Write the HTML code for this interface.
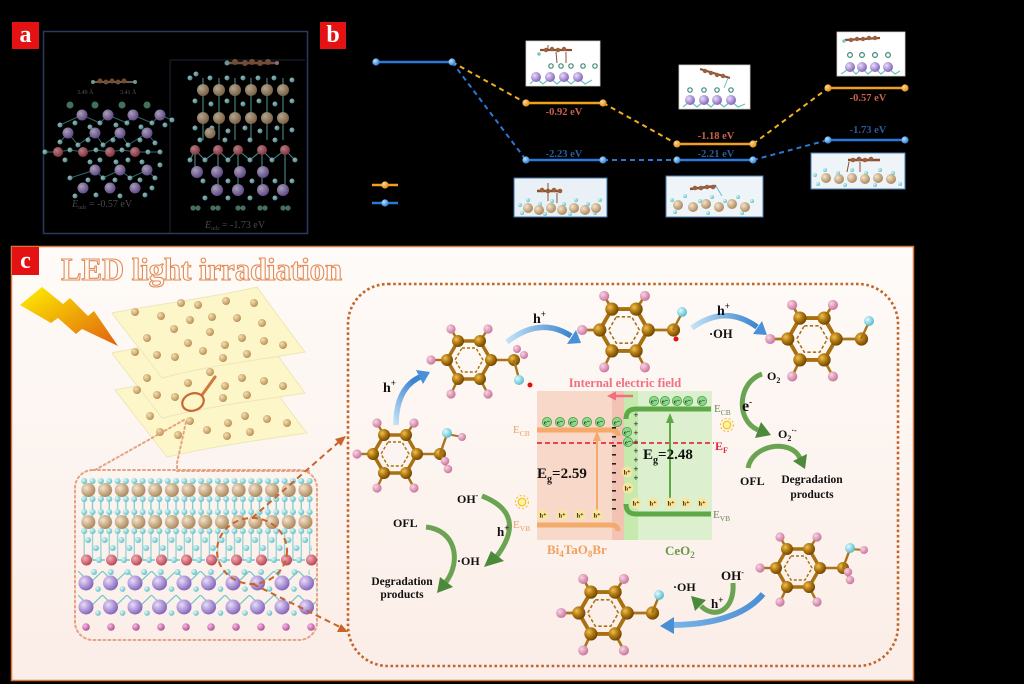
<!DOCTYPE html>
<html><head><meta charset="utf-8"><style>
html,body{margin:0;padding:0;background:#000;}
svg{display:block;}
text{font-family:"Liberation Serif",serif;}
</style></head><body>
<svg width="1024" height="684" viewBox="0 0 1024 684" xmlns="http://www.w3.org/2000/svg">
<defs>
<radialGradient id="gC" cx="35%" cy="35%" r="70%"><stop offset="0" stop-color="#f0c050"/><stop offset="0.5" stop-color="#b07810"/><stop offset="1" stop-color="#6a4200"/></radialGradient>
<radialGradient id="gH" cx="35%" cy="35%" r="70%"><stop offset="0" stop-color="#f8d4e4"/><stop offset="1" stop-color="#c87098"/></radialGradient>
<radialGradient id="gF" cx="35%" cy="35%" r="70%"><stop offset="0" stop-color="#e0fcff"/><stop offset="1" stop-color="#50b8cc"/></radialGradient>
<radialGradient id="gTan" cx="35%" cy="35%" r="70%"><stop offset="0" stop-color="#f4e4cc"/><stop offset="1" stop-color="#a88458"/></radialGradient>
<radialGradient id="gCy" cx="35%" cy="35%" r="70%"><stop offset="0" stop-color="#e0fafa"/><stop offset="1" stop-color="#58bcc4"/></radialGradient>
<radialGradient id="gRed" cx="35%" cy="35%" r="70%"><stop offset="0" stop-color="#f4b0b8"/><stop offset="1" stop-color="#b84050"/></radialGradient>
<radialGradient id="gPur" cx="35%" cy="35%" r="70%"><stop offset="0" stop-color="#e8dcfc"/><stop offset="1" stop-color="#8060b8"/></radialGradient>
<radialGradient id="gPink" cx="35%" cy="35%" r="70%"><stop offset="0" stop-color="#f4c0e8"/><stop offset="1" stop-color="#b04890"/></radialGradient>
<radialGradient id="gDot" cx="35%" cy="35%" r="70%"><stop offset="0" stop-color="#f4e0b0"/><stop offset="1" stop-color="#b88c50"/></radialGradient>
<radialGradient id="gOd" cx="35%" cy="35%" r="70%"><stop offset="0" stop-color="#ffd890"/><stop offset="1" stop-color="#e08a10"/></radialGradient>
<radialGradient id="gBd" cx="35%" cy="35%" r="70%"><stop offset="0" stop-color="#b8e0ff"/><stop offset="1" stop-color="#2a7ad0"/></radialGradient>
<linearGradient id="gBolt" x1="0" y1="0" x2="1" y2="1"><stop offset="0" stop-color="#fff000"/><stop offset="1" stop-color="#e06010"/></linearGradient>
<linearGradient id="gPanel" x1="0" y1="0" x2="0" y2="1"><stop offset="0" stop-color="#fefbf8"/><stop offset="1" stop-color="#fbede7"/></linearGradient>
<linearGradient id="gBlue" x1="0" y1="0" x2="1" y2="0"><stop offset="0" stop-color="#c4e2f6"/><stop offset="1" stop-color="#3a84d0"/></linearGradient>
<linearGradient id="gBlueR" x1="1" y1="0" x2="0" y2="0"><stop offset="0" stop-color="#4a8ed4"/><stop offset="1" stop-color="#7ab4e8"/></linearGradient>
<linearGradient id="gBlueV" x1="0" y1="1" x2="0.6" y2="0"><stop offset="0" stop-color="#c4e2f6"/><stop offset="1" stop-color="#3a84d0"/></linearGradient>

<pattern id="ptan" patternUnits="userSpaceOnUse" width="16.7" height="16"><circle cx="8.35" cy="8" r="7" fill="url(#gTan)"/></pattern>
<pattern id="pcy" patternUnits="userSpaceOnUse" width="8.35" height="8"><circle cx="4.17" cy="4" r="3" fill="url(#gCy)"/></pattern>
<pattern id="pcy2" patternUnits="userSpaceOnUse" width="16.7" height="16"><circle cx="4" cy="4" r="3" fill="url(#gCy)"/><circle cx="12" cy="12" r="3" fill="url(#gCy)"/></pattern>
<pattern id="pbond" patternUnits="userSpaceOnUse" width="8.35" height="24"><line x1="4.17" y1="0" x2="4.17" y2="24" stroke="#70c8cc" stroke-width="1.2"/></pattern>
<pattern id="pred" patternUnits="userSpaceOnUse" width="25" height="14"><line x1="6" y1="7" x2="25" y2="7" stroke="#70c8cc" stroke-width="1.5"/><circle cx="6.5" cy="7" r="5.5" fill="url(#gRed)"/><circle cx="19" cy="7" r="3" fill="url(#gCy)"/></pattern>
<pattern id="ppur" patternUnits="userSpaceOnUse" width="24.5" height="18"><circle cx="9" cy="9" r="7.5" fill="url(#gPur)"/><circle cx="21" cy="15" r="2.8" fill="url(#gCy)"/></pattern>
<pattern id="pzig" patternUnits="userSpaceOnUse" width="24.5" height="24"><polyline points="0,0 12,12 24.5,0" fill="none" stroke="#70c8cc" stroke-width="1.2"/></pattern>
<pattern id="ppink" patternUnits="userSpaceOnUse" width="25" height="10"><circle cx="6" cy="5" r="3.8" fill="url(#gPink)"/></pattern>

<g id="benz">
 <g stroke="#a87418" stroke-width="2.4">
  <line x1="-11" y1="-19" x2="-18" y2="-31"/><line x1="11" y1="-19" x2="19" y2="-31"/>
  <line x1="-22" y1="0" x2="-38" y2="0"/><line x1="-11" y1="19" x2="-18" y2="34"/>
  <line x1="11" y1="19" x2="19" y2="34"/><line x1="22" y1="0" x2="45" y2="0"/>
 </g>
 <polygon points="-11,-19 11,-19 22,0 11,19 -11,19 -22,0" fill="none" stroke="#a87010" stroke-width="3.5"/>
 <polygon points="-7,-12 7,-12 14,0 7,12 -7,12 -14,0" fill="none" stroke="#a87010" stroke-width="1.4" stroke-dasharray="3 2"/>
 <g fill="url(#gH)">
  <circle cx="-18" cy="-31" r="4.6"/><circle cx="19" cy="-31" r="4.6"/><circle cx="-38" cy="0" r="4.6"/>
  <circle cx="-18" cy="34" r="4.6"/><circle cx="19" cy="34" r="4.6"/>
 </g>
 <g fill="url(#gC)">
  <circle cx="-11" cy="-19" r="6"/><circle cx="11" cy="-19" r="6"/><circle cx="22" cy="0" r="6"/>
  <circle cx="11" cy="19" r="6"/><circle cx="-11" cy="19" r="6"/><circle cx="-22" cy="0" r="6"/>
  <circle cx="45" cy="0" r="6"/>
 </g>
</g>
</defs>

<rect width="1024" height="684" fill="#000"/>

<!-- ================= PANEL A ================= -->
<rect x="12" y="22" width="27" height="27" fill="#e41212"/>
<text x="25.5" y="42" font-size="24" font-weight="bold" fill="#fff" text-anchor="middle">a</text>
<rect x="43.5" y="31.5" width="264" height="202" fill="none" stroke="#2a3a5c" stroke-width="1.5"/>
<line x1="170" y1="60" x2="170" y2="233" stroke="#1c2638" stroke-width="1"/>
<line x1="170" y1="60" x2="305" y2="60" stroke="#1c2638" stroke-width="1"/>

<g opacity="0.72">
 <!-- left structure -->
 <line x1="93" y1="82" x2="135" y2="82" stroke="#a08070" stroke-width="2"/>
 <g fill="#a06a48"><circle cx="100" cy="81" r="2.5"/><circle cx="106" cy="82" r="2.5"/><circle cx="112" cy="81" r="2.5"/><circle cx="118" cy="82" r="2.5"/><circle cx="124" cy="81" r="2.5"/></g>
 <circle cx="93" cy="82" r="2" fill="#9ad0c8"/><circle cx="135" cy="82" r="2" fill="#9ad0c8"/>
 <text x="77" y="94" font-size="6" fill="#777">3.49 Å</text>
 <text x="120" y="94" font-size="6" fill="#777">3.41 Å</text>
 <g fill="#5e9a84"><circle cx="70" cy="105" r="3.5"/><circle cx="95" cy="105" r="3.5"/><circle cx="122" cy="105" r="3.5"/><circle cx="147" cy="105" r="3.5"/></g>
 <g stroke="#5ab0b0" stroke-width="1" opacity="0.8">
  <polyline points="60,125 82,115 100,123 108,115 127,123 133,115 152,123 160,115 172,120" fill="none"/>
  <polyline points="45,152 58,152 70,150 83,152 96,150 110,152 122,150 135,152 148,152 160,152" fill="none"/>
  <polyline points="60,142 68,133 78,145 95,133 103,145 120,133 128,145 147,133 155,143" fill="none"/>
  <polyline points="70,178 95,170 103,178 120,170 130,178 147,170 155,178" fill="none"/>
 </g>
 <g fill="url(#gCy)">
  <circle cx="60" cy="125" r="2.5"/><circle cx="75" cy="123" r="2.5"/><circle cx="90" cy="127" r="2.5"/><circle cx="100" cy="123" r="2.5"/><circle cx="116" cy="125" r="2.5"/><circle cx="127" cy="123" r="2.5"/><circle cx="141" cy="127" r="2.5"/><circle cx="152" cy="123" r="2.5"/><circle cx="165" cy="125" r="2.5"/><circle cx="172" cy="120" r="2.5"/>
  <circle cx="60" cy="142" r="2.5"/><circle cx="78" cy="145" r="2.5"/><circle cx="88" cy="140" r="2.5"/><circle cx="103" cy="145" r="2.5"/><circle cx="113" cy="140" r="2.5"/><circle cx="128" cy="145" r="2.5"/><circle cx="140" cy="140" r="2.5"/><circle cx="155" cy="143" r="2.5"/>
  <circle cx="45" cy="152" r="2.5"/><circle cx="70" cy="150" r="2.5"/><circle cx="96" cy="150" r="2.5"/><circle cx="122" cy="150" r="2.5"/><circle cx="148" cy="152" r="2.5"/><circle cx="160" cy="152" r="2.5"/>
  <circle cx="65" cy="160" r="2.5"/><circle cx="90" cy="162" r="2.5"/><circle cx="100" cy="160" r="2.5"/><circle cx="116" cy="162" r="2.5"/><circle cx="128" cy="160" r="2.5"/><circle cx="142" cy="162" r="2.5"/><circle cx="160" cy="165" r="2.5"/>
  <circle cx="70" cy="178" r="2.5"/><circle cx="88" cy="180" r="2.5"/><circle cx="103" cy="178" r="2.5"/><circle cx="115" cy="180" r="2.5"/><circle cx="130" cy="178" r="2.5"/><circle cx="140" cy="180" r="2.5"/><circle cx="155" cy="178" r="2.5"/>
  <circle cx="75" cy="196" r="2.5"/><circle cx="96" cy="195" r="2.5"/><circle cx="120" cy="196" r="2.5"/><circle cx="145" cy="195" r="2.5"/><circle cx="152" cy="188" r="2.5"/>
 </g>
 <g fill="url(#gPur)">
  <circle cx="82" cy="115" r="5.5"/><circle cx="108" cy="115" r="5.5"/><circle cx="133" cy="115" r="5.5"/><circle cx="160" cy="115" r="5.5"/>
  <circle cx="68" cy="133" r="5.5"/><circle cx="95" cy="133" r="5.5"/><circle cx="120" cy="133" r="5.5"/><circle cx="147" cy="133" r="5.5"/>
  <circle cx="95" cy="170" r="5.5"/><circle cx="120" cy="170" r="5.5"/><circle cx="147" cy="170" r="5.5"/>
  <circle cx="83" cy="188" r="5.5"/><circle cx="110" cy="188" r="5.5"/><circle cx="135" cy="188" r="5.5"/>
 </g>
 <g fill="url(#gRed)"><circle cx="58" cy="152" r="5"/><circle cx="83" cy="152" r="5"/><circle cx="110" cy="152" r="5"/><circle cx="135" cy="152" r="5"/></g>

 <!-- right structure -->
 <line x1="227" y1="63" x2="277" y2="63" stroke="#a07060" stroke-width="2.5"/>
 <g fill="#a06a48"><circle cx="235" cy="62" r="3"/><circle cx="245" cy="63" r="3"/><circle cx="252" cy="62" r="3"/><circle cx="260" cy="63" r="3"/><circle cx="268" cy="62" r="3"/></g>
 <circle cx="227" cy="63" r="2.5" fill="#9ad0c8"/><circle cx="277" cy="63" r="2" fill="#d090a8"/>
 <g stroke="#5ab0b0" stroke-width="1.2">
  <line x1="203" y1="78" x2="203" y2="140"/><line x1="219" y1="78" x2="219" y2="140"/><line x1="235" y1="78" x2="235" y2="140"/><line x1="251" y1="78" x2="251" y2="140"/><line x1="267" y1="78" x2="267" y2="140"/><line x1="283" y1="78" x2="283" y2="140"/>
  <line x1="195" y1="150" x2="195" y2="172"/><line x1="218" y1="150" x2="218" y2="190"/><line x1="238" y1="150" x2="238" y2="190"/><line x1="262" y1="150" x2="262" y2="190"/><line x1="285" y1="150" x2="285" y2="190"/>
  <polyline points="190,160 195,150 205,160 218,150 228,160 238,150 250,160 262,150 272,160 285,150 295,160" fill="none"/>
 </g>
 <g fill="url(#gCy)">
  <circle cx="190" cy="78" r="2.5"/><circle cx="196" cy="74" r="2.5"/><circle cx="210" cy="78" r="2.5"/><circle cx="227" cy="78" r="2.5"/><circle cx="243" cy="78" r="2.5"/><circle cx="258" cy="78" r="2.5"/><circle cx="274" cy="78" r="2.5"/><circle cx="292" cy="80" r="2.5"/>
  <circle cx="195" cy="101" r="2.5"/><circle cx="211" cy="104" r="2.5"/><circle cx="227" cy="101" r="2.5"/><circle cx="243" cy="104" r="2.5"/><circle cx="259" cy="101" r="2.5"/><circle cx="275" cy="104" r="2.5"/><circle cx="292" cy="101" r="2.5"/>
  <circle cx="195" cy="128" r="2.5"/><circle cx="212" cy="128" r="2.5"/><circle cx="228" cy="131" r="2.5"/><circle cx="245" cy="128" r="2.5"/><circle cx="260" cy="131" r="2.5"/><circle cx="277" cy="128" r="2.5"/><circle cx="292" cy="130" r="2.5"/>
  <circle cx="200" cy="140" r="2.5"/><circle cx="225" cy="140" r="2.5"/><circle cx="250" cy="140" r="2.5"/><circle cx="275" cy="140" r="2.5"/>
  <circle cx="190" cy="160" r="2.5"/><circle cx="205" cy="160" r="2.5"/><circle cx="228" cy="160" r="2.5"/><circle cx="250" cy="160" r="2.5"/><circle cx="272" cy="160" r="2.5"/><circle cx="295" cy="160" r="2.5"/>
  <circle cx="203" cy="181" r="2.5"/><circle cx="228" cy="181" r="2.5"/><circle cx="252" cy="181" r="2.5"/><circle cx="275" cy="181" r="2.5"/><circle cx="292" cy="181" r="2.5"/>
  <circle cx="205" cy="198" r="2.5"/><circle cx="228" cy="198" r="2.5"/><circle cx="250" cy="198" r="2.5"/><circle cx="275" cy="198" r="2.5"/>
 </g>
 <g fill="url(#gTan)">
  <circle cx="203" cy="90" r="6"/><circle cx="219" cy="90" r="6"/><circle cx="235" cy="90" r="6"/><circle cx="251" cy="90" r="6"/><circle cx="267" cy="90" r="6"/><circle cx="283" cy="90" r="6"/>
  <circle cx="203" cy="118" r="6"/><circle cx="219" cy="118" r="6"/><circle cx="235" cy="118" r="6"/><circle cx="251" cy="118" r="6"/><circle cx="267" cy="118" r="6"/><circle cx="283" cy="118" r="6"/>
  <circle cx="210" cy="133" r="5.5"/>
 </g>
 <g fill="url(#gRed)"><circle cx="195" cy="150" r="5"/><circle cx="218" cy="150" r="5"/><circle cx="238" cy="150" r="5"/><circle cx="262" cy="150" r="5"/><circle cx="285" cy="150" r="5"/></g>
 <g fill="url(#gPur)">
  <circle cx="197" cy="172" r="6"/><circle cx="217" cy="172" r="6"/><circle cx="240" cy="172" r="6"/><circle cx="263" cy="172" r="6"/>
  <circle cx="217" cy="190" r="6"/><circle cx="238" cy="190" r="6"/><circle cx="263" cy="190" r="6"/><circle cx="283" cy="190" r="6"/>
 </g>
 <g fill="#5e9a84">
  <circle cx="193" cy="208" r="2.6"/><circle cx="198" cy="208" r="2.6"/><circle cx="213" cy="208" r="2.6"/><circle cx="218" cy="208" r="2.6"/><circle cx="238" cy="208" r="2.6"/><circle cx="243" cy="208" r="2.6"/><circle cx="260" cy="208" r="2.6"/><circle cx="265" cy="208" r="2.6"/><circle cx="283" cy="208" r="2.6"/><circle cx="288" cy="208" r="2.6"/>
 </g>
</g>
<text x="72" y="207" font-size="10" fill="#4a4a4a" font-style="italic">E<tspan dy="2" font-size="6">ads</tspan><tspan dy="-2" font-style="normal"> = -0.57 eV</tspan></text>
<text x="205" y="228" font-size="10" fill="#4a4a4a" font-style="italic">E<tspan dy="2" font-size="6">ads</tspan><tspan dy="-2" font-style="normal"> = -1.73 eV</tspan></text>

<!-- ================= PANEL B ================= -->
<rect x="320" y="22" width="26" height="27" fill="#e41212"/>
<text x="333" y="42" font-size="24" font-weight="bold" fill="#fff" text-anchor="middle">b</text>

<rect x="526" y="41" width="74" height="45" fill="#fff" stroke="#d8d0c8" stroke-width="0.8"/>
<g>
 <line x1="540" y1="50" x2="572" y2="50" stroke="#8a5030" stroke-width="2.2"/>
 <g fill="#9a6040"><circle cx="546" cy="50" r="2.2"/><circle cx="552" cy="49" r="2.2"/><circle cx="558" cy="50" r="2.2"/><circle cx="564" cy="49" r="2.2"/></g>
 <line x1="548" y1="45" x2="548" y2="50" stroke="#8a5030"/><line x1="556" y1="52" x2="557" y2="63" stroke="#8a5030"/><line x1="566" y1="52" x2="566" y2="63" stroke="#8a5030"/>
 <circle cx="539" cy="54" r="1.8" fill="#7ac8c0"/>
 <g fill="none" stroke="#3e8a78" stroke-width="1.2"><circle cx="551" cy="66" r="2.2"/><circle cx="561" cy="66" r="2.2"/><circle cx="571" cy="66" r="2.2"/><circle cx="583" cy="66" r="2.2"/><circle cx="595" cy="66" r="2.2"/></g>
 <polyline points="530,84 536,78 543,84 550,78 557,84 564,78 571,84 578,78 585,84 592,80" fill="none" stroke="#6ac0c0" stroke-width="1.2"/>
 <g fill="url(#gPur)"><circle cx="536" cy="77" r="5"/><circle cx="550" cy="77" r="5"/><circle cx="564" cy="77" r="5"/><circle cx="578" cy="77" r="5"/></g>
</g>
<rect x="679" y="65" width="71" height="44" fill="#fff" stroke="#d8d0c8" stroke-width="0.8"/>
<g>
 <line x1="700" y1="69" x2="730" y2="78" stroke="#8a5030" stroke-width="2.2"/>
 <g fill="#9a6040"><circle cx="705" cy="71" r="2.2"/><circle cx="711" cy="73" r="2.2"/><circle cx="717" cy="75" r="2.2"/><circle cx="723" cy="76" r="2.2"/></g>
 <line x1="728" y1="78" x2="724" y2="88" stroke="#6ac0c0"/>
 <g fill="none" stroke="#3e8a78" stroke-width="1.2"><circle cx="690" cy="90" r="2.2"/><circle cx="704" cy="90" r="2.2"/><circle cx="717" cy="90" r="2.2"/><circle cx="731" cy="90" r="2.2"/></g>
 <polyline points="683,107 690,101 697,107 704,101 711,107 717,101 724,107 731,101 738,107 745,104" fill="none" stroke="#6ac0c0" stroke-width="1.2"/>
 <g fill="url(#gPur)"><circle cx="690" cy="100" r="5"/><circle cx="704" cy="100" r="5"/><circle cx="717" cy="100" r="5"/><circle cx="731" cy="100" r="5"/></g>
</g>
<rect x="837" y="32" width="68" height="44" fill="#fff" stroke="#d8d0c8" stroke-width="0.8"/>
<g>
 <line x1="845" y1="40" x2="880" y2="38" stroke="#8a5030" stroke-width="2.2"/>
 <g fill="#9a6040"><circle cx="851" cy="40" r="2.2"/><circle cx="857" cy="39" r="2.2"/><circle cx="863" cy="39" r="2.2"/><circle cx="869" cy="38" r="2.2"/><circle cx="875" cy="38" r="2.2"/></g>
 <circle cx="844" cy="41" r="1.8" fill="#7ac8c0"/>
 <g fill="none" stroke="#3e8a78" stroke-width="1.2"><circle cx="850" cy="55" r="2.4"/><circle cx="862" cy="55" r="2.4"/><circle cx="875" cy="55" r="2.4"/><circle cx="888" cy="55" r="2.4"/></g>
 <polyline points="841,74 850,68 856,74 862,68 868,74 875,68 881,74 888,68 895,74 900,71" fill="none" stroke="#6ac0c0" stroke-width="1.2"/>
 <g fill="url(#gPur)"><circle cx="850" cy="67" r="5"/><circle cx="862" cy="67" r="5"/><circle cx="875" cy="67" r="5"/><circle cx="888" cy="67" r="5"/></g>
</g>
<rect x="514" y="178" width="93" height="39" fill="#eaf1f6" stroke="#3b72aa" stroke-width="1"/>
<g>
 <line x1="537" y1="191" x2="562" y2="191" stroke="#8a5030" stroke-width="2.4"/>
 <g fill="#9a6040"><circle cx="542" cy="190" r="2.3"/><circle cx="548" cy="191" r="2.3"/><circle cx="554" cy="190" r="2.3"/><circle cx="560" cy="191" r="2.3"/></g>
 <line x1="548" y1="183" x2="548" y2="201" stroke="#8a5030"/><line x1="557" y1="193" x2="557" y2="203" stroke="#8a5030"/>
 <g fill="url(#gCy)"><circle cx="520" cy="205" r="2"/><circle cx="528" cy="200" r="2"/><circle cx="540" cy="204" r="2"/><circle cx="552" cy="201" r="2"/><circle cx="564" cy="204" r="2"/><circle cx="576" cy="200" r="2"/><circle cx="588" cy="204" r="2"/><circle cx="600" cy="200" r="2"/><circle cx="522" cy="213" r="2"/><circle cx="545" cy="214" r="2"/><circle cx="570" cy="214" r="2"/><circle cx="595" cy="213" r="2"/></g>
 <g fill="url(#gTan)"><circle cx="528" cy="208" r="5"/><circle cx="539" cy="210" r="5"/><circle cx="551" cy="208" r="5"/><circle cx="562" cy="210" r="5"/><circle cx="574" cy="208" r="5"/><circle cx="585" cy="210" r="5"/><circle cx="596" cy="208" r="5"/></g>
</g>
<rect x="666" y="176" width="97" height="41" fill="#eef4f8" stroke="#4a80b2" stroke-width="1"/>
<g>
 <line x1="690" y1="189" x2="716" y2="186" stroke="#8a5030" stroke-width="2.4"/>
 <g fill="#9a6040"><circle cx="695" cy="188" r="2.3"/><circle cx="701" cy="188" r="2.3"/><circle cx="707" cy="187" r="2.3"/><circle cx="713" cy="187" r="2.3"/></g>
 <line x1="716" y1="186" x2="722" y2="196" stroke="#6ac0c0"/>
 <g fill="url(#gCy)"><circle cx="672" cy="200" r="2"/><circle cx="685" cy="196" r="2"/><circle cx="700" cy="201" r="2"/><circle cx="712" cy="197" r="2"/><circle cx="725" cy="201" r="2"/><circle cx="738" cy="197" r="2"/><circle cx="752" cy="201" r="2"/><circle cx="675" cy="212" r="2"/><circle cx="708" cy="213" r="2"/><circle cx="742" cy="213" r="2"/></g>
 <g fill="url(#gTan)"><circle cx="678" cy="205" r="5"/><circle cx="693" cy="207" r="5"/><circle cx="706" cy="204" r="5"/><circle cx="719" cy="207" r="5"/><circle cx="732" cy="204" r="5"/><circle cx="745" cy="207" r="5"/></g>
</g>
<rect x="811" y="153" width="94" height="36" fill="#eef4f8" stroke="#4a80b2" stroke-width="1"/>
<g>
 <line x1="848" y1="160" x2="880" y2="160" stroke="#8a5030" stroke-width="2.4"/>
 <g fill="#9a6040"><circle cx="853" cy="160" r="2.3"/><circle cx="859" cy="159" r="2.3"/><circle cx="865" cy="160" r="2.3"/><circle cx="871" cy="159" r="2.3"/></g>
 <line x1="860" y1="162" x2="860" y2="172" stroke="#8a5030"/><line x1="849" y1="162" x2="847" y2="172" stroke="#8a5030"/>
 <g fill="url(#gCy)"><circle cx="815" cy="175" r="2"/><circle cx="825" cy="170" r="2"/><circle cx="838" cy="173" r="2"/><circle cx="852" cy="170" r="2"/><circle cx="866" cy="173" r="2"/><circle cx="880" cy="170" r="2"/><circle cx="893" cy="173" r="2"/><circle cx="818" cy="184" r="2"/><circle cx="845" cy="185" r="2"/><circle cx="875" cy="185" r="2"/><circle cx="900" cy="184" r="2"/></g>
 <g fill="url(#gTan)"><circle cx="826" cy="178" r="5"/><circle cx="839" cy="179" r="5"/><circle cx="852" cy="178" r="5"/><circle cx="865" cy="179" r="5"/><circle cx="878" cy="178" r="5"/><circle cx="891" cy="179" r="5"/></g>
</g>

<g stroke-width="2" stroke-dasharray="5 4" fill="none">
 <line x1="452" y1="62" x2="526" y2="103" stroke="#f0b020"/>
 <line x1="603" y1="103" x2="677" y2="144" stroke="#f0b020"/>
 <line x1="753" y1="144" x2="828" y2="88" stroke="#f0b020"/>
 <line x1="452" y1="62" x2="526" y2="160" stroke="#2a78d8"/>
 <line x1="603" y1="160" x2="677" y2="160" stroke="#2a78d8"/>
 <line x1="753" y1="160" x2="828" y2="140" stroke="#2a78d8"/>
</g>
<g stroke-width="2.4">
 <line x1="376" y1="62" x2="452" y2="62" stroke="#2a78d8"/>
 <line x1="526" y1="103" x2="603" y2="103" stroke="#f0a020"/>
 <line x1="526" y1="160" x2="603" y2="160" stroke="#2a78d8"/>
 <line x1="677" y1="144" x2="753" y2="144" stroke="#f0a020"/>
 <line x1="677" y1="160" x2="753" y2="160" stroke="#2a78d8"/>
 <line x1="828" y1="88" x2="905" y2="88" stroke="#f0a020"/>
 <line x1="828" y1="140" x2="905" y2="140" stroke="#2a78d8"/>
 <line x1="372" y1="185" x2="398" y2="185" stroke="#f0a020"/>
 <line x1="372" y1="203" x2="398" y2="203" stroke="#2a78d8"/>
</g>
<g fill="url(#gBd)">
 <circle cx="376" cy="62" r="3.6"/><circle cx="452" cy="62" r="3.6"/><circle cx="526" cy="160" r="3.6"/><circle cx="603" cy="160" r="3.6"/>
 <circle cx="677" cy="160" r="3.6"/><circle cx="753" cy="160" r="3.6"/><circle cx="828" cy="140" r="3.6"/><circle cx="905" cy="140" r="3.6"/><circle cx="385" cy="203" r="3.6"/>
</g>
<g fill="url(#gOd)">
 <circle cx="526" cy="103" r="3.6"/><circle cx="603" cy="103" r="3.6"/><circle cx="677" cy="144" r="3.6"/><circle cx="753" cy="144" r="3.6"/>
 <circle cx="828" cy="88" r="3.6"/><circle cx="905" cy="88" r="3.6"/><circle cx="385" cy="185" r="3.6"/>
</g>
<g font-size="10.5" font-weight="bold" text-anchor="middle">
 <text x="564" y="115" fill="#c8624a">-0.92 eV</text>
 <text x="564" y="157" fill="#2a5c9c">-2.23 eV</text>
 <text x="716" y="139" fill="#c8624a">-1.18 eV</text>
 <text x="716" y="157" fill="#2a5c9c">-2.21 eV</text>
 <text x="868" y="101" fill="#c8624a">-0.57 eV</text>
 <text x="868" y="133" fill="#2a5c9c">-1.73 eV</text>
</g>

<!-- ================= PANEL C ================= -->
<rect x="11.5" y="246.5" width="902" height="434" fill="url(#gPanel)" stroke="#d8783c" stroke-width="1.5"/>
<rect x="12" y="247" width="27" height="28" fill="#e41212"/>
<text x="25.5" y="268" font-size="24" font-weight="bold" fill="#fff" text-anchor="middle">c</text>
<text x="61" y="280" font-size="32" font-weight="bold" fill="#fffaf4" stroke="#e08a58" stroke-width="1.1" textLength="281" lengthAdjust="spacingAndGlyphs">LED light irradiation</text>

<polygon points="20,305 42,287 63,304 70,298 88,316 94,311 118,346 82,329 76,334 58,318 51,323" fill="url(#gBolt)"/>

<path d="M115,390 C150,383 200,376 259,368 C275,390 290,412 307,433 C260,440 215,446 167,457 C150,435 132,412 115,390 Z" fill="#fcf6c8" stroke="#eee6b8" stroke-width="1"/>
<path d="M112,353 C150,345 200,339 257,327 C273,349 289,371 305,393 C260,400 210,406 162,418 C146,396 128,375 112,353 Z" fill="#fcf6c8" stroke="#eee6b8" stroke-width="1"/>
<path d="M112,313 C150,305 200,300 257,287 C273,309 289,331 305,352 C260,360 210,365 162,378 C146,356 128,335 112,313 Z" fill="#fcf6c8" stroke="#eee6b8" stroke-width="1"/>
<g fill="url(#gDot)">
 <circle cx="137" cy="390" r="4"/><circle cx="150" cy="416" r="4"/><circle cx="160" cy="432" r="4"/><circle cx="178" cy="435" r="4"/><circle cx="190" cy="421" r="4"/><circle cx="207" cy="430" r="4"/><circle cx="228" cy="423" r="4"/><circle cx="227" cy="436" r="4"/><circle cx="245" cy="416" r="4"/><circle cx="250" cy="432" r="4"/><circle cx="267" cy="419" r="4"/><circle cx="287" cy="423" r="4"/>
 <circle cx="135" cy="352" r="4"/><circle cx="147" cy="378" r="4"/><circle cx="188" cy="383" r="4"/><circle cx="210" cy="372" r="4"/><circle cx="225" cy="386" r="4"/><circle cx="242" cy="378" r="4"/><circle cx="264" cy="381" r="4"/><circle cx="283" cy="386" r="4"/><circle cx="157" cy="395" r="4"/><circle cx="175" cy="397" r="4"/><circle cx="223" cy="398" r="4"/><circle cx="247" cy="395" r="4"/>
 <circle cx="135" cy="312" r="4"/><circle cx="181" cy="303" r="4"/><circle cx="198" cy="305" r="4"/><circle cx="226" cy="301" r="4"/><circle cx="254" cy="303" r="4"/><circle cx="161" cy="316" r="4"/><circle cx="190" cy="320" r="4"/><circle cx="212" cy="317" r="4"/><circle cx="237" cy="318" r="4"/><circle cx="262" cy="323" r="4"/><circle cx="174" cy="329" r="4"/><circle cx="210" cy="332" r="4"/><circle cx="147" cy="338" r="4"/><circle cx="188" cy="343" r="4"/><circle cx="225" cy="345" r="4"/><circle cx="242" cy="338" r="4"/><circle cx="264" cy="341" r="4"/><circle cx="283" cy="345" r="4"/><circle cx="157" cy="355" r="4"/><circle cx="175" cy="357" r="4"/><circle cx="203" cy="351" r="4"/><circle cx="223" cy="358" r="4"/><circle cx="247" cy="354" r="4"/>
</g>
<line x1="202" y1="395" x2="215" y2="377" stroke="#d07a40" stroke-width="3" stroke-linecap="round"/>
<ellipse cx="193" cy="402" rx="11" ry="8.5" transform="rotate(-20 193 402)" fill="none" stroke="#c86a30" stroke-width="2.2"/>

<g fill="none" stroke="#e4a484" stroke-width="2" stroke-dasharray="2 3" stroke-linecap="round">
 <polyline points="186,422 177,463 177,471 310,471"/>
 <polyline points="184,420 95,470"/>
 <rect x="75" y="470" width="242" height="170" rx="18"/>
</g>

<g>
 <g transform="translate(80,499)"><rect width="234" height="23" fill="url(#pbond)"/></g>
 <g transform="translate(80,531)"><rect width="234" height="29" fill="url(#pbond)" opacity="0.8"/></g>
 <g transform="translate(78,571)"><rect width="238" height="48" fill="url(#pzig)"/></g>
 <g transform="translate(80,477)"><rect width="234" height="8" fill="url(#pcy)"/></g>
 <g transform="translate(80,482)"><rect width="234" height="16" fill="url(#ptan)"/></g>
 <g transform="translate(80,495)"><rect width="234" height="8" fill="url(#pcy)"/></g>
 <g transform="translate(80,508)"><rect width="234" height="8" fill="url(#pcy)"/></g>
 <g transform="translate(80,514)"><rect width="234" height="16" fill="url(#ptan)"/></g>
 <g transform="translate(80,527)"><rect width="234" height="8" fill="url(#pcy)"/></g>
 <g transform="translate(84,536)"><rect width="228" height="16" fill="url(#pcy2)"/></g>
 <g transform="translate(80,553)"><rect width="238" height="14" fill="url(#pred)"/></g>
 <g transform="translate(90,568)"><rect width="220" height="8" fill="url(#pcy2)"/></g>
 <g transform="translate(77,574)"><rect width="240" height="18" fill="url(#ppur)"/></g>
 <g transform="translate(77,598)"><rect width="240" height="18" fill="url(#ppur)"/></g>
 <g transform="translate(80,622)"><rect width="238" height="10" fill="url(#ppink)"/></g>
</g>
<g fill="none" stroke="#c8642a" stroke-width="2" stroke-dasharray="6 4">
 <ellipse cx="252" cy="551" rx="35" ry="33"/>
 <line x1="252" y1="518" x2="340" y2="441"/>
 <line x1="253" y1="584" x2="342" y2="628"/>
</g>
<polygon points="346,436 335,439 341,446" fill="#c8642a"/>
<polygon points="348,632 337,632 341,624" fill="#c8642a"/>

<rect x="348" y="284" width="550" height="382" rx="40" fill="none" stroke="#c4642a" stroke-width="2.6" stroke-dasharray="2.6 2.6"/>

<!-- band diagram -->
<rect x="537" y="391" width="76" height="149" fill="#f8d8c8"/>
<rect x="612" y="391" width="12" height="149" fill="#f2c2b2"/>
<rect x="624" y="391" width="88" height="149" fill="#dcefcf"/>
<rect x="624" y="391" width="14" height="149" fill="#c6eaae"/>
<text x="625" y="387" font-size="12.5" font-weight="bold" fill="#f07080" text-anchor="middle">Internal electric field</text>
<line x1="633" y1="396" x2="614" y2="396" stroke="#f07080" stroke-width="2.4"/>
<polygon points="607,396 616,391.5 616,400.5" fill="#f07080"/>
<line x1="537" y1="443" x2="714" y2="443" stroke="#e03040" stroke-width="1.8" stroke-dasharray="5 3"/>
<g fill="none" stroke-width="5">
 <path d="M537,430 H611 Q618,430 618,436" stroke="#f4aa6a"/>
 <path d="M537,525 H611 Q618,525 618,531" stroke="#f4aa6a"/>
 <path d="M626,419 Q626,409 636,409 H711" stroke="#5ea846"/>
 <path d="M626,504 Q626,514 636,514 H711" stroke="#5ea846"/>
</g>
<line x1="597" y1="512" x2="597" y2="440" stroke="#f4aa6a" stroke-width="2"/>
<polygon points="597,431 593,441 601,441" fill="#f4aa6a"/>
<line x1="670" y1="502" x2="670" y2="422" stroke="#5ea846" stroke-width="2"/>
<polygon points="670,413 666,423 674,423" fill="#5ea846"/>
<g fill="#222">
 <rect x="612" y="427" width="4" height="1.6"/><rect x="612" y="436" width="4" height="1.6"/><rect x="612" y="445" width="4" height="1.6"/><rect x="612" y="454" width="4" height="1.6"/><rect x="612" y="463" width="4" height="1.6"/><rect x="612" y="472" width="4" height="1.6"/><rect x="612" y="481" width="4" height="1.6"/><rect x="612" y="490" width="4" height="1.6"/><rect x="612" y="499" width="4" height="1.6"/><rect x="612" y="508" width="4" height="1.6"/>
</g>
<g font-size="9" font-weight="bold" fill="#222" text-anchor="middle">
 <text x="636" y="418">+</text><text x="636" y="427">+</text><text x="636" y="436">+</text><text x="636" y="445">+</text><text x="636" y="454">+</text><text x="636" y="463">+</text><text x="636" y="472">+</text><text x="636" y="481">+</text>
</g>
<g fill="#8ed88c" stroke="#4a9a44" stroke-width="0.8">
 <circle cx="547" cy="422" r="4.6"/><circle cx="560" cy="422" r="4.6"/><circle cx="573" cy="422" r="4.6"/><circle cx="587" cy="422" r="4.6"/><circle cx="600" cy="422" r="4.6"/><circle cx="617" cy="422" r="4.6"/>
 <circle cx="627" cy="432" r="4.6"/><circle cx="628" cy="442" r="4.6"/>
 <circle cx="654" cy="401" r="4.6"/><circle cx="665" cy="401" r="4.6"/><circle cx="677" cy="401" r="4.6"/><circle cx="688" cy="401" r="4.6"/><circle cx="702" cy="401" r="4.6"/>
</g>
<g font-size="6.5" font-weight="bold" fill="#1a3a1a" text-anchor="middle">
 <text x="547" y="424.5">e⁻</text><text x="560" y="424.5">e⁻</text><text x="573" y="424.5">e⁻</text><text x="587" y="424.5">e⁻</text><text x="600" y="424.5">e⁻</text><text x="617" y="424.5">e⁻</text>
 <text x="627" y="434.5">e⁻</text><text x="628" y="444.5">e⁻</text>
 <text x="654" y="403.5">e⁻</text><text x="665" y="403.5">e⁻</text><text x="677" y="403.5">e⁻</text><text x="688" y="403.5">e⁻</text><text x="702" y="403.5">e⁻</text>
</g>
<g fill="#f8e6a0">
 <circle cx="543" cy="515" r="5.4"/><circle cx="562" cy="515" r="5.4"/><circle cx="580" cy="515" r="5.4"/><circle cx="597" cy="515" r="5.4"/>
 <circle cx="636" cy="503" r="5.4"/><circle cx="653" cy="503" r="5.4"/><circle cx="671" cy="503" r="5.4"/><circle cx="686" cy="503" r="5.4"/><circle cx="702" cy="503" r="5.4"/>
 <circle cx="627" cy="472" r="5.4"/><circle cx="628" cy="488" r="5.4"/>
</g>
<g font-size="6.5" font-weight="bold" fill="#3a2a00" text-anchor="middle">
 <text x="543" y="517.5">h⁺</text><text x="562" y="517.5">h⁺</text><text x="580" y="517.5">h⁺</text><text x="597" y="517.5">h⁺</text>
 <text x="636" y="505.5">h⁺</text><text x="653" y="505.5">h⁺</text><text x="671" y="505.5">h⁺</text><text x="686" y="505.5">h⁺</text><text x="702" y="505.5">h⁺</text>
 <text x="627" y="474.5">h⁺</text><text x="628" y="490.5">h⁺</text>
</g>
<text x="513" y="433" font-size="11" fill="#f0a060">E<tspan dy="3" font-size="7.5">CB</tspan></text>
<text x="513" y="528" font-size="11" fill="#f0a060">E<tspan dy="3" font-size="7.5">VB</tspan></text>
<text x="714" y="412" font-size="11" fill="#6a8a5a">E<tspan dy="3" font-size="7.5">CB</tspan></text>
<text x="713" y="518" font-size="11" fill="#6a8a5a">E<tspan dy="3" font-size="7.5">VB</tspan></text>
<text x="715" y="450" font-size="12" font-weight="bold" fill="#e02838">E<tspan dy="3" font-size="8">F</tspan></text>
<text x="537" y="478" font-size="15" font-weight="bold" fill="#111">E<tspan dy="4" font-size="10">g</tspan><tspan dy="-4">=2.59</tspan></text>
<text x="643" y="459" font-size="15" font-weight="bold" fill="#111">E<tspan dy="4" font-size="10">g</tspan><tspan dy="-4">=2.48</tspan></text>
<text x="547" y="554" font-size="13" font-weight="bold" fill="#f0a060">Bi<tspan dy="3" font-size="9">4</tspan><tspan dy="-3">TaO</tspan><tspan dy="3" font-size="9">8</tspan><tspan dy="-3">Br</tspan></text>
<text x="665" y="555" font-size="13" font-weight="bold" fill="#6a9a4a">CeO<tspan dy="3" font-size="9">2</tspan></text>
<g stroke="#f2c020" fill="none" stroke-width="1.1">
 <circle cx="522" cy="502" r="3.8" fill="#fff2a0"/><circle cx="522" cy="502" r="6.5" stroke-dasharray="2 2"/>
 <circle cx="727" cy="425" r="3.8" fill="#fff2a0"/><circle cx="727" cy="425" r="6.5" stroke-dasharray="2 2"/>
</g>

<!-- molecules -->
<use href="#benz" transform="translate(395,454)"/>
<g>
 <line x1="440" y1="454" x2="447" y2="434" stroke="#a87418" stroke-width="2.4"/>
 <line x1="447" y1="434" x2="462" y2="437" stroke="#a87418" stroke-width="2"/>
 <line x1="440" y1="454" x2="446" y2="466" stroke="#a87418" stroke-width="2"/>
 <circle cx="462" cy="437" r="4" fill="url(#gH)"/><circle cx="445" cy="461" r="4.3" fill="url(#gH)"/><circle cx="448" cy="469" r="4.3" fill="url(#gH)"/>
 <circle cx="447" cy="433" r="5" fill="url(#gF)"/>
</g>
<use href="#benz" transform="translate(469,360)"/>
<g>
 <line x1="514" y1="360" x2="519" y2="379" stroke="#a87418" stroke-width="2.4"/>
 <circle cx="517" cy="349" r="4" fill="url(#gH)"/><circle cx="524" cy="355" r="4" fill="url(#gH)"/>
 <circle cx="519" cy="380" r="5" fill="url(#gF)"/><circle cx="530" cy="385" r="2.5" fill="#e01010"/>
</g>
<use href="#benz" transform="translate(624,330) scale(1.1)"/>
<g><line x1="673" y1="330" x2="682" y2="313" stroke="#a87418" stroke-width="2.4"/><circle cx="682" cy="312" r="5" fill="url(#gF)"/><circle cx="676" cy="339" r="2.5" fill="#e01010"/></g>
<use href="#benz" transform="translate(812,339) scale(1.1)"/>
<g><line x1="861" y1="339" x2="869" y2="322" stroke="#a87418" stroke-width="2.4"/><circle cx="869" cy="321" r="5" fill="url(#gF)"/></g>
<use href="#benz" transform="translate(603,613) scale(1.1)"/>
<g><line x1="652" y1="613" x2="659" y2="596" stroke="#a87418" stroke-width="2.4"/><circle cx="659" cy="595" r="5" fill="url(#gF)"/></g>
<use href="#benz" transform="translate(798,568)"/>
<g>
 <line x1="843" y1="568" x2="850" y2="549" stroke="#a87418" stroke-width="2.4"/>
 <line x1="850" y1="549" x2="864" y2="550" stroke="#a87418" stroke-width="2"/>
 <line x1="843" y1="568" x2="849" y2="578" stroke="#a87418" stroke-width="2"/>
 <circle cx="864" cy="550" r="4" fill="url(#gH)"/><circle cx="848" cy="572" r="4.3" fill="url(#gH)"/><circle cx="850" cy="580" r="4.3" fill="url(#gH)"/>
 <circle cx="850" cy="548" r="5" fill="url(#gF)"/>
</g>

<!-- blue arrows -->
<path d="M396,425 Q396,388 420,377" fill="none" stroke="url(#gBlueV)" stroke-width="5.5"/>
<polygon points="430,372 423,384 416,370" fill="#4a90d8"/>
<path d="M507,342 Q540,316 571,336" fill="none" stroke="url(#gBlue)" stroke-width="5.5"/>
<polygon points="581,343 567,344 576,330" fill="#4a90d8"/>
<path d="M692,328 Q725,304 757,327" fill="none" stroke="url(#gBlue)" stroke-width="5.5"/>
<polygon points="767,335 753,334 762,321" fill="#4a90d8"/>
<path d="M763,594 Q738,624 673,625" fill="none" stroke="url(#gBlueR)" stroke-width="6"/>
<polygon points="660,626 674,617 674,634" fill="#4a8ed4"/>

<!-- green arrows -->
<g fill="none" stroke="#6aa452" stroke-width="5">
 <path d="M482,496 Q528,514 497,556"/>
 <path d="M426,527 C455,530 462,560 446,582"/>
 <path d="M762,374 C738,382 735,420 758,430"/>
 <path d="M748,468 C752,445 790,438 800,458"/>
 <path d="M733,583 C735,610 715,620 701,606"/>
</g>
<g fill="#4a8a3a">
 <polygon points="484,567 504,561 491,551"/>
 <polygon points="437,593 453,587 440,577"/>
 <polygon points="771,435 755,438 761,422"/>
 <polygon points="805,469 807,454 793,461"/>
 <polygon points="691,596 706,600 695,611"/>
</g>

<g font-weight="bold" fill="#111">
 <text x="383" y="392" font-size="14">h<tspan dy="-6" font-size="9">+</tspan></text>
 <text x="533" y="323" font-size="14">h<tspan dy="-6" font-size="9">+</tspan></text>
 <text x="717" y="315" font-size="14">h<tspan dy="-6" font-size="9">+</tspan></text>
 <text x="709" y="338" font-size="12.5">·OH</text>
 <text x="457" y="503" font-size="12">OH<tspan dy="-5" font-size="8">-</tspan></text>
 <text x="497" y="536" font-size="13">h<tspan dy="-5" font-size="9">+</tspan></text>
 <text x="457" y="565" font-size="12">·OH</text>
 <text x="393" y="527" font-size="12">OFL</text>
 <text x="402" y="585" font-size="11.5" text-anchor="middle">Degradation</text>
 <text x="402" y="598" font-size="11.5" text-anchor="middle">products</text>
 <text x="767" y="380" font-size="12">O<tspan dy="3" font-size="8">2</tspan></text>
 <text x="742" y="411" font-size="16">e<tspan dy="-6" font-size="9">-</tspan></text>
 <text x="778" y="438" font-size="12">O<tspan dy="3" font-size="8">2</tspan><tspan dy="-8" font-size="8">·-</tspan></text>
 <text x="740" y="485" font-size="12">OFL</text>
 <text x="812" y="483" font-size="11.5" text-anchor="middle">Degradation</text>
 <text x="812" y="498" font-size="11.5" text-anchor="middle">products</text>
 <text x="721" y="580" font-size="13">OH<tspan dy="-5" font-size="8">-</tspan></text>
 <text x="673" y="591" font-size="12">·OH</text>
 <text x="711" y="608" font-size="13">h<tspan dy="-5" font-size="9">+</tspan></text>
</g>
</svg>
</body></html>
